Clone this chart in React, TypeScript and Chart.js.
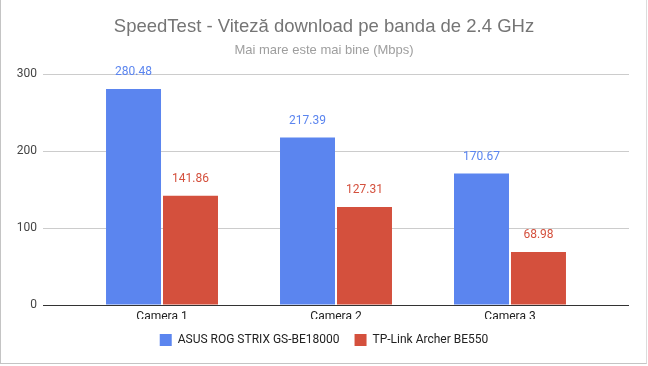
import React, { useEffect, useRef } from "react";
import { Chart, registerables } from "chart.js";

Chart.register(...registerables);

const TITLE = "SpeedTest - Viteză download pe banda de 2.4 GHz";
const SUBTITLE = "Mai mare este mai bine (Mbps)";
const categories = ["Camera 1", "Camera 2", "Camera 3"];
const seriesNames = ["ASUS ROG STRIX GS-BE18000", "TP-Link Archer BE550"];
const asusValues = [280.48, 217.39, 170.67];
const tplinkValues = [141.86, 127.31, 68.98];
const yTicks = [0, 100, 200, 300];

const BLUE = "#5b85ef";
const RED = "#d4503d";
const FONT = "Roboto, Arial, sans-serif";
const TITLE_FONT = "'Liberation Sans', Arial, sans-serif";

const valueLabels = {
  id: "valueLabels",
  afterDatasetsDraw(chart: any) {
    const ctx = chart.ctx;
    ctx.save();
    ctx.font = `12px ${FONT}`;
    ctx.textAlign = "center";
    ctx.textBaseline = "middle";
    chart.data.datasets.forEach((ds: any, di: number) => {
      const meta = chart.getDatasetMeta(di);
      ctx.fillStyle = ds.backgroundColor;
      meta.data.forEach((bar: any, i: number) => {
        const v = ds.data[i].y;
        ctx.fillText(v.toFixed(2), bar.x, bar.y - 17);
      });
    });
    ctx.restore();
  },
};

export default function App() {
  const ref = useRef<HTMLCanvasElement | null>(null);

  useEffect(() => {
    document.body.style.margin = "0";
    if (!ref.current) return;
    const chart = new Chart(ref.current, {
      type: "bar",
      data: {
        datasets: [
          {
            label: seriesNames[0],
            data: asusValues.map((v, i) => ({ x: i, y: v })),
            backgroundColor: BLUE,
            borderWidth: 0,
            categoryPercentage: 0.655,
            barPercentage: 0.965,
          },
          {
            label: seriesNames[1],
            data: tplinkValues.map((v, i) => ({ x: i, y: v })),
            backgroundColor: RED,
            borderWidth: 0,
            categoryPercentage: 0.655,
            barPercentage: 0.965,
          },
        ],
      },
      options: {
        animation: false,
        responsive: false,
        maintainAspectRatio: false,
        layout: { padding: { top: 0, bottom: 10, left: 0, right: 0 } },
        scales: {
          x: {
            type: "linear",
            offset: false,
            min: -0.684,
            max: categories.length - 1 + 0.684,
            grid: { display: false, drawTicks: false, offset: false },
            border: { display: false },
            ticks: {
              stepSize: 1,
              includeBounds: false,
              autoSkip: false,
              maxRotation: 0,
              padding: 5,
              color: "#222",
              font: { size: 12, family: FONT },
              callback: (v: any) =>
                Number.isInteger(v) && categories[v] ? categories[v] : "",
            },
            afterFit: (s: any) => {
              s.height = 14;
            },
          },
          y: {
            min: yTicks[0],
            max: yTicks[yTicks.length - 1],
            grid: {
              drawTicks: false,
              color: (c: any) => (c.tick && c.tick.value === 0 ? "#333" : "#cccccc"),
              lineWidth: 1,
            },
            border: { display: false },
            ticks: {
              stepSize: 100,
              padding: 6,
              color: "#444",
              font: { size: 12, family: FONT },
            },
            afterFit: (s: any) => {
              s.width = 43;
            },
          },
          yRight: {
            position: "right",
            display: true,
            grid: { display: false, drawTicks: false },
            border: { display: false },
            ticks: { display: false },
            afterFit: (s: any) => {
              s.width = 19;
            },
          },
        },
        plugins: {
          title: {
            display: true,
            text: TITLE,
            color: "#757575",
            font: { size: 18.5, family: TITLE_FONT, weight: "normal" },
            padding: { top: 16, bottom: 0 },
          },
          subtitle: {
            display: true,
            text: SUBTITLE,
            color: "#9e9e9e",
            font: { size: 13, family: TITLE_FONT, weight: "normal" },
            padding: { top: 4.5, bottom: 15.7 },
          },
          legend: {
            display: true,
            position: "bottom",
            labels: {
              boxWidth: 12,
              boxHeight: 12,
              padding: 15,
              color: "#222",
              font: { size: 12, family: FONT },
            },
          },
          tooltip: { enabled: false },
        },
      },
      plugins: [valueLabels],
    } as any);
    return () => chart.destroy();
  }, []);

  return (
    <div style={{ position: "relative", width: 648, height: 366, background: "#fff" }}>
      <canvas ref={ref} width={648} height={366} style={{ display: "block" }} />
      <div
        style={{
          position: "absolute",
          left: 0,
          top: 0,
          width: 647,
          height: 364,
          boxSizing: "border-box",
          borderLeft: "1px solid #c4c4c4",
          borderRight: "1px solid #dcdcdc",
          borderBottom: "1px solid #c4c4c4",
          pointerEvents: "none",
        }}
      />
    </div>
  );
}
